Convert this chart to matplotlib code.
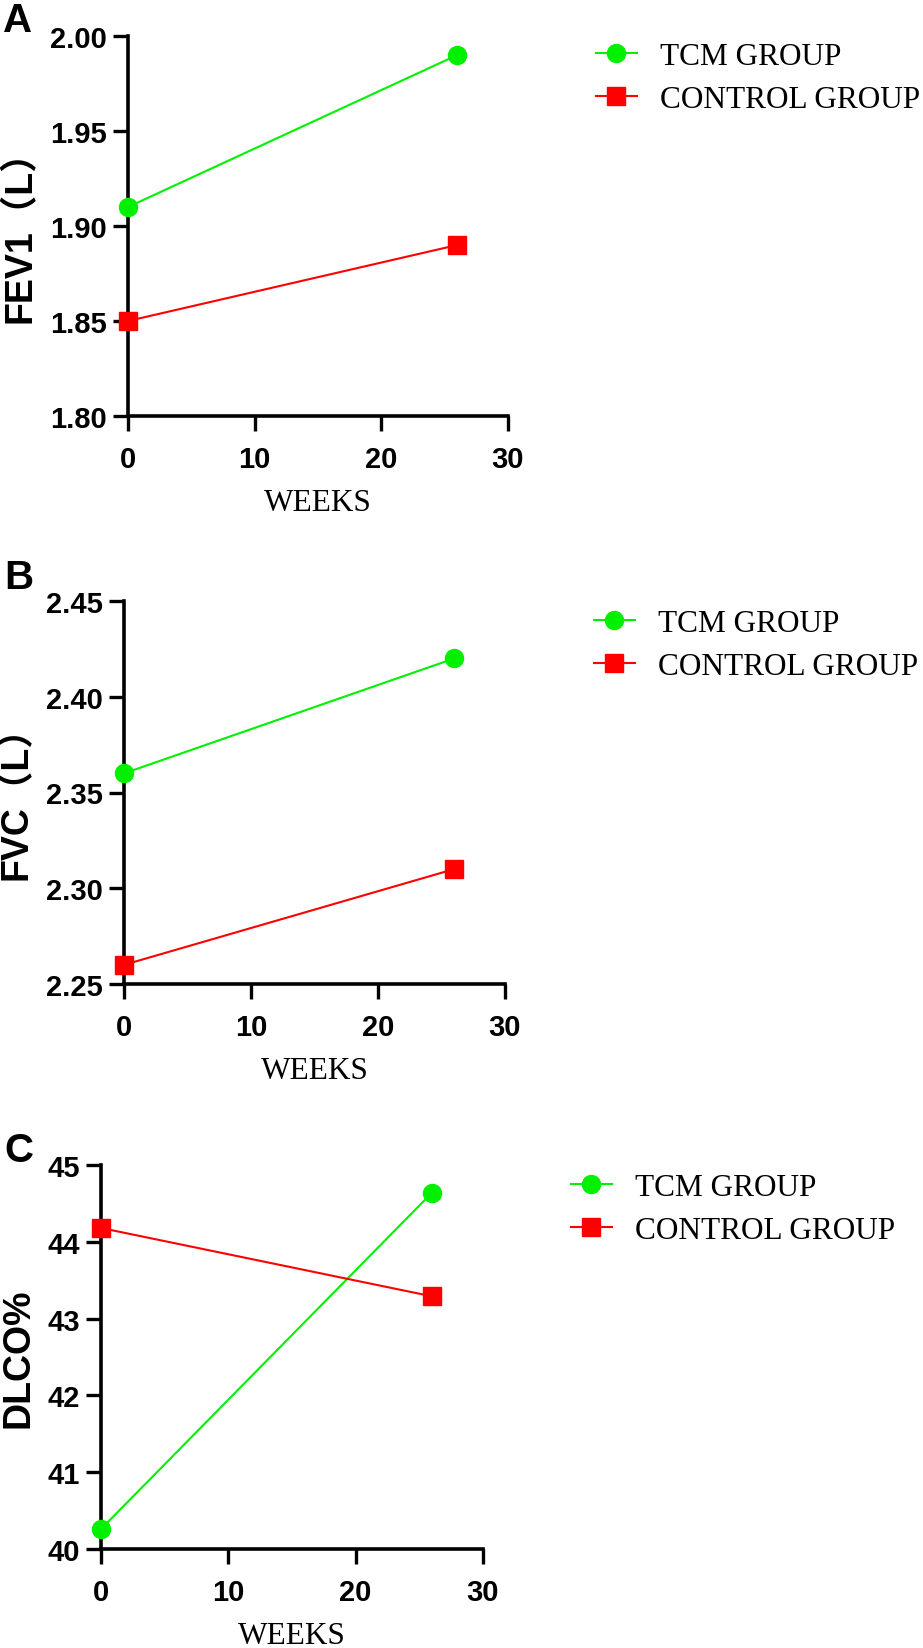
import matplotlib.pyplot as plt

weeks = [0, 26]

fev1_tcm = [1.91, 1.99]
fev1_control = [1.85, 1.89]

fvc_tcm = [2.36, 2.42]
fvc_control = [2.26, 2.31]

dlco_tcm = [40.26, 44.64]
dlco_control = [44.18, 43.29]

group_labels = ['TCM GROUP', 'CONTROL GROUP']
panel_letters = ['A', 'B', 'C']
y_labels = ['FEV1（L）', 'FVC（L）', 'DLCO%']
y_ticks = [[1.80, 1.85, 1.90, 1.95, 2.00],
           [2.25, 2.30, 2.35, 2.40, 2.45],
           [40, 41, 42, 43, 44, 45]]
y_fmt = ['{:.2f}', '{:.2f}', '{:.0f}']
x_ticks = [0, 10, 20, 30]

GREEN = '#00f000'
RED = '#ff0000'
SANS = ['Liberation Sans', 'Noto Sans CJK SC', 'DejaVu Sans']
SERIF = ['Liberation Serif', 'DejaVu Serif']

W, H = 923, 1649
fig = plt.figure(figsize=(W / 100, H / 100), dpi=100)

# axes boxes in pixels: left, top, right, bottom
boxes = [(128, 37, 508, 417),
         (124, 602, 505, 985),
         (101, 1166, 483, 1550)]
# legend anchors (upper left of handle) in pixels
leg_anchor = [(596, 43), (594, 610), (571, 1174)]
letter_pos = [(3, 2), (4, 559), (4, 1132)]

data = [(fev1_tcm, fev1_control), (fvc_tcm, fvc_control), (dlco_tcm, dlco_control)]

for i, (tcm, ctrl) in enumerate(data):
    l, t, r, b = boxes[i]
    ax = fig.add_axes([l / W, 1 - b / H, (r - l) / W, (b - t) / H])
    ax.plot(weeks, tcm, color=GREEN, lw=1.5, marker='o', ms=13, mec=GREEN,
            label=group_labels[0], clip_on=False, zorder=3)
    ax.plot(weeks, ctrl, color=RED, lw=1.5, marker='s', ms=12.5, mec=RED,
            label=group_labels[1], clip_on=False, zorder=3)

    ax.set_xlim(0, 30)
    ax.set_ylim(y_ticks[i][0], y_ticks[i][-1])
    ax.set_xticks(x_ticks)
    ax.set_yticks(y_ticks[i])
    ax.set_yticklabels([y_fmt[i].format(v) for v in y_ticks[i]])

    for s in ['top', 'right']:
        ax.spines[s].set_visible(False)
    for s in ['left', 'bottom']:
        ax.spines[s].set_linewidth(2.6)
    ax.tick_params(axis='both', width=2.4, length=11)
    ax.tick_params(axis='y', pad=4)
    ax.tick_params(axis='x', pad=10)
    for lab in ax.get_xticklabels() + ax.get_yticklabels():
        lab.set_fontfamily(SANS)
        lab.set_fontweight('bold')
        lab.set_fontsize(21)

    ax.set_xlabel('WEEKS', fontfamily=SERIF, fontsize=22.5, labelpad=11)
    ax.set_ylabel(y_labels[i], fontfamily=SANS, fontweight='bold', fontsize=27, labelpad=8)

    ax_x, ax_y = leg_anchor[i]
    ax.legend(loc='upper left', bbox_to_anchor=(ax_x / W, 1 - ax_y / H),
              bbox_transform=fig.transFigure, frameon=False,
              prop={'family': SERIF, 'size': 22.5},
              handlelength=1.3, handletextpad=0.75, labelspacing=0.45,
              borderpad=0, borderaxespad=0, markerscale=1.0)

    lx, ly = letter_pos[i]
    fig.text(lx / W, 1 - ly / H, panel_letters[i], fontfamily=SANS, fontweight='bold',
             fontsize=29, ha='left', va='top')

fig.savefig('out.png', dpi=100)
